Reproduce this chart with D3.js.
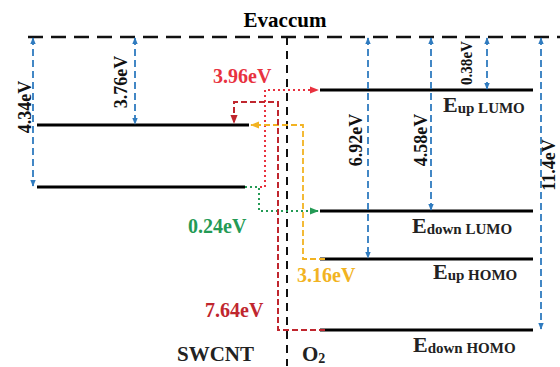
<!DOCTYPE html>
<html lang="en">
<head>
    <meta charset="UTF-8">
    <title>energy-levels</title>
    <style>
        body { margin: 0; background: #fff; }
        text { font-family: "Liberation Serif", "Times New Roman", serif; font-weight: bold; }
    </style>
    <script src="https://d3js.org/d3.v7.min.js"></script>
</head>
<body>
<script>

    // energies below vacuum (eV)
    const swcntEnergies = [3.76, 4.34];
    const o2Energies = [0.38, 4.58, 6.92, 11.4];
    const o2Spin = ["up", "down", "up", "down"];
    const o2Orbital = ["LUMO", "LUMO", "HOMO", "HOMO"];

    // vacuum-to-level gaps drawn as blue arrows
    const gapValues = [4.34, 3.76, 6.92, 4.58, 0.38, 11.4];
    const gapLabels = ["4.34eV", "3.76eV", "6.92eV", "4.58eV", "0.38eV", "11.4eV"];

    // transfers between SWCNT and O2 levels: [from, to]
    const transFrom = [4.34, 4.34, 6.92, 11.4];
    const transTo = [0.38, 4.58, 3.76, 3.76];
    const transLabels = ["3.96eV", "0.24eV", "3.16eV", "7.64eV"];

    let width = 560;
    let height = 367;

    // schematic (not to scale) energy axis
    let y = d3.scaleLinear()
        .domain([0, 0.38, 3.76, 4.34, 4.58, 6.92, 11.4])
        .range([37, 90, 125, 187, 211, 259, 330]);

    let blue = "#2f7bbf";
    let transStyle = [
        {color: "#e8323f", dash: "2,3", width: 2, turnX: 265, endX: 318, hop: 0},
        {color: "#249a55", dash: "2,3", width: 2, turnX: 259, endX: 318, hop: 0},
        {color: "#f2b322", dash: "6,3", width: 1.8, turnX: 303, endX: 251, hop: 0},
        {color: "#c0262e", dash: "6,3", width: 2, turnX: 278, endX: 234, hop: 23}
    ];
    let gapX = [33, 135, 368, 431, 487, 541];
    let gapLabelX = [31, 127, 362, 427, 472, 555];
    let gapLabelY = [107, 82, 140, 140, 63, 165];

    let svg = d3.select("body").append("svg")
        .attr("width", width).attr("height", height);

    let defs = svg.append("defs");

    function marker(id, color, size) {
        defs.append("marker")
            .attr("id", id)
            .attr("viewBox", "0 0 10 10")
            .attr("refX", 9).attr("refY", 5)
            .attr("markerWidth", size).attr("markerHeight", size)
            .attr("markerUnits", "userSpaceOnUse")
            .attr("orient", "auto-start-reverse")
            .append("path")
            .attr("d", "M0,1 L10,5 L0,9 Z")
            .attr("fill", color);
    }
    marker("arr-blue", blue, 7);
    transStyle.forEach((s, i) => marker("arr-t" + i, s.color, 9));

    // vacuum level and divider
    svg.append("path")
        .attr("d", d3.line()([[28, y(0)], [width, y(0)]]))
        .attr("stroke", "#111").attr("stroke-width", 2.5)
        .attr("stroke-dasharray", "15,8").attr("fill", "none");
    svg.append("path")
        .attr("d", d3.line()([[287, y(0)], [287, 366]]))
        .attr("stroke", "#111").attr("stroke-width", 2)
        .attr("stroke-dasharray", "8,6").attr("fill", "none");

    svg.append("text")
        .attr("x", 285).attr("y", 27)
        .attr("text-anchor", "middle")
        .attr("font-size", 21)
        .text("Evaccum");

    // levels
    svg.selectAll(".swcnt").data(swcntEnergies).enter().append("line")
        .attr("class", "swcnt")
        .attr("x1", 37).attr("x2", (d, i) => i === 0 ? 249 : 245)
        .attr("y1", d => y(d)).attr("y2", d => y(d))
        .attr("stroke", "#000").attr("stroke-width", 3);

    svg.selectAll(".o2").data(o2Energies).enter().append("line")
        .attr("class", "o2")
        .attr("x1", 320).attr("x2", 533)
        .attr("y1", d => y(d)).attr("y2", d => y(d))
        .attr("stroke", "#000").attr("stroke-width", 3);

    let labelX = [443, 412, 433, 413];
    let labelDy = [22, 22, 20, 22];
    let lab = svg.selectAll(".o2lab").data(o2Energies).enter().append("text")
        .attr("class", "o2lab")
        .attr("x", (d, i) => labelX[i])
        .attr("y", (d, i) => y(d) + labelDy[i])
        .attr("fill", "#222");
    lab.append("tspan").attr("font-size", 22).text("E");
    lab.append("tspan").attr("font-size", 15).attr("dy", 1)
        .text((d, i) => o2Spin[i] + " " + o2Orbital[i]);

    // blue gap arrows
    svg.selectAll(".gap").data(gapValues).enter().append("line")
        .attr("class", "gap")
        .attr("x1", (d, i) => gapX[i]).attr("x2", (d, i) => gapX[i])
        .attr("y1", y(0) + 1).attr("y2", d => y(d) - 1)
        .attr("stroke", blue).attr("stroke-width", 1.8)
        .attr("stroke-dasharray", "7,4")
        .attr("marker-start", "url(#arr-blue)")
        .attr("marker-end", "url(#arr-blue)");

    svg.selectAll(".gaplab").data(gapLabels).enter().append("text")
        .attr("class", "gaplab")
        .attr("transform", (d, i) => `translate(${gapLabelX[i]},${gapLabelY[i]}) rotate(-90)`)
        .attr("text-anchor", "middle")
        .attr("font-size", (d, i) => i === 4 ? 16 : 18)
        .attr("textLength", (d, i) => i === 4 ? 44 : null)
        .attr("lengthAdjust", "spacingAndGlyphs")
        .attr("fill", "#111")
        .text(d => d);

    // transfer paths
    let swEnd = 249;
    let o2Start = 320;
    svg.selectAll(".trans").data(transLabels).enter().append("path")
        .attr("class", "trans")
        .attr("d", (d, i) => {
            let s = transStyle[i];
            let fromSw = swcntEnergies.includes(transFrom[i]);
            let x0 = fromSw ? swEnd - 4 : o2Start + 5;
            let y0 = y(transFrom[i]);
            let y1 = y(transTo[i]);
            let pts = [[x0, y0], [s.turnX, y0]];
            if (s.hop) {
                pts.push([s.turnX, y1 - s.hop], [s.endX, y1 - s.hop], [s.endX, y1 - 2]);
            } else {
                pts.push([s.turnX, y1], [s.endX, y1]);
            }
            return d3.line()(pts);
        })
        .attr("fill", "none")
        .attr("stroke", (d, i) => transStyle[i].color)
        .attr("stroke-width", (d, i) => transStyle[i].width)
        .attr("stroke-dasharray", (d, i) => transStyle[i].dash)
        .attr("marker-end", (d, i) => "url(#arr-t" + i + ")");

    let transLabX = [213, 188, 297, 205];
    let transLabY = [83, 233, 282, 317];
    svg.selectAll(".translab").data(transLabels).enter().append("text")
        .attr("class", "translab")
        .attr("x", (d, i) => transLabX[i]).attr("y", (d, i) => transLabY[i])
        .attr("font-size", 20)
        .attr("fill", (d, i) => transStyle[i].color)
        .text(d => d);

    // bottom labels
    svg.append("text")
        .attr("x", 177).attr("y", 361)
        .attr("font-size", 21)
        .attr("fill", "#222")
        .text("SWCNT");
    let o2 = svg.append("text")
        .attr("x", 302).attr("y", 361)
        .attr("fill", "#222");
    o2.append("tspan").attr("font-size", 21).text("O");
    o2.append("tspan").attr("font-size", 14).attr("dy", 2).text("2");

</script>
</body>
</html>
